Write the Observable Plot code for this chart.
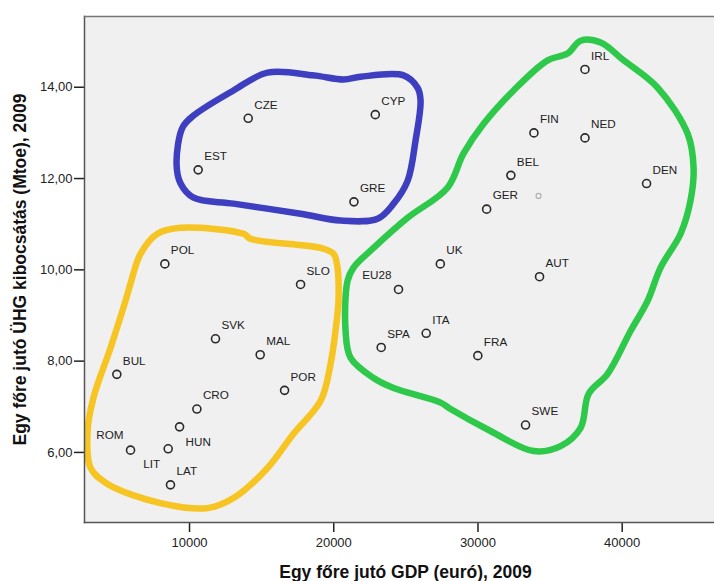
<!DOCTYPE html>
<html>
<head>
<meta charset="utf-8">
<script src="https://cdn.jsdelivr.net/npm/d3@7"></script>
<script src="https://cdn.jsdelivr.net/npm/@observablehq/plot@0.6"></script>
<style>
  body { margin: 0; background: #fff; }
  #chart svg { display: block; }
</style>
</head>
<body>
<div id="chart"></div>
<script>
// ---- Data ----
const countries = ["CZE","EST","GRE","CYP","IRL","FIN","NED","BEL","DEN","GER","UK","AUT","EU28","ITA","SPA","FRA","SWE","POL","SLO","SVK","MAL","BUL","POR","CRO","HUN","ROM","LIT","LAT"];
const gdp = [14070,10600,21400,22880,37420,33880,37420,32280,41690,30600,27390,34270,24490,26410,23290,29990,33300,8290,17700,11800,14900,4960,16590,10510,9310,5910,8520,8680];
const ghg = [13.32,12.19,11.49,13.40,14.39,13.00,12.89,12.07,11.89,11.33,10.13,9.85,9.57,8.61,8.30,8.12,6.60,10.13,9.68,8.49,8.14,7.71,7.36,6.95,6.56,6.05,6.08,5.29];

// faint extra point (grey)
const extraGdp = [34200];
const extraGhg = [11.62];

// label placement exceptions
const labelsLeftAbove = ["ROM","EU28"];
const labelsLeftBelow = ["LIT"];
const labelsRightBelow = ["HUN"];

// hand-drawn group outlines (in data units)
const blueGdp = [15410,18600,20680,21860,24840,25810,26020,25670,25120,24150,23040,20470,17700,13050,10280,9380,9100,9520,10280,13050];
const blueGhg = [14.32,14.26,14.17,14.23,14.26,13.99,13.71,12.83,11.95,11.45,11.12,11.08,11.23,11.45,11.58,11.89,12.33,13.12,13.38,13.93];

const yellowGdp = [7780,9380,13750,14230,19090,19990,20260,20330,20260,19780,19090,17210,15410,13050,11250,7990,4310,3140,2930,3340,4520,5560,5910,6600];
const yellowGhg = [10.79,10.92,10.79,10.68,10.48,10.35,10.05,9.32,9.04,7.94,7.13,6.41,5.66,5.00,4.78,4.89,5.31,5.66,6.47,7.20,8.29,9.32,9.70,10.35];

const greenGdp = [37120,38500,40100,42460,44540,44950,44740,44050,42660,41760,40580,38990,37670,37120,35730,33860,30870,28100,27410,24150,22760,21170,20820,20960,21370,22760,25120,27890,29000,30390,32470,34830,36210];
const greenGhg = [15.02,14.98,14.59,13.99,12.98,12.24,11.52,10.79,10.05,9.32,8.66,7.72,7.28,6.54,6.14,6.03,6.47,6.95,7.09,7.41,7.63,8.07,8.66,9.76,10.05,10.48,11.14,11.80,12.55,13.20,13.93,14.59,14.74];

const xTicks = [10000,20000,30000,40000];
const yTicks = [6,8,10,12,14];
const xTitle = "Egy főre jutó GDP (euró), 2009";
const yTitle = "Egy főre jutó ÜHG kibocsátás (Mtoe), 2009";

// ---- Build tables ----
const points = countries.map((c, i) => ({country: c, gdp: gdp[i], ghg: ghg[i]}));
const extra = extraGdp.map((g, i) => ({gdp: g, ghg: extraGhg[i]}));
const outline = (xs, ys) => xs.map((x, i) => ({gdp: x, ghg: ys[i]}));
const blue = outline(blueGdp, blueGhg);
const yellow = outline(yellowGdp, yellowGhg);
const green = outline(greenGdp, greenGhg);

const special = [...labelsLeftAbove, ...labelsLeftBelow, ...labelsRightBelow];
const normal = points.filter(d => !special.includes(d.country));
const leftAbove = points.filter(d => labelsLeftAbove.includes(d.country));
const leftBelow = points.filter(d => labelsLeftBelow.includes(d.country));
const rightBelow = points.filter(d => labelsRightBelow.includes(d.country));

const commaFmt = d3.formatLocale({decimal: ",", thousands: "", grouping: [3], currency: ["", ""]}).format(".2f");

const font = "'Liberation Sans', Arial, sans-serif";
const labelStyle = {fontSize: 11.7, fill: "#222"};

const chart = Plot.plot({
  width: 714,
  height: 581,
  marginLeft: 84,
  marginRight: 0,
  marginTop: 16,
  marginBottom: 59,
  style: {fontFamily: font, background: "#fff", overflow: "visible"},
  x: {domain: [2718, 46400]},
  y: {domain: [4.465, 15.55]},
  marks: [
    Plot.frame({fill: "#f0f0f0", stroke: null}),
    Plot.line(blue, {x: "gdp", y: "ghg", curve: "catmull-rom-closed", stroke: "#3d3fc0", strokeWidth: 6.5, strokeLinejoin: "round"}),
    Plot.line(yellow, {x: "gdp", y: "ghg", curve: "catmull-rom-closed", stroke: "#f6c423", strokeWidth: 6.5, strokeLinejoin: "round"}),
    Plot.line(green, {x: "gdp", y: "ghg", curve: "catmull-rom-closed", stroke: "#2ec84a", strokeWidth: 6.5, strokeLinejoin: "round"}),
    Plot.dot(extra, {x: "gdp", y: "ghg", r: 2.5, stroke: "#b0b0b0", strokeWidth: 1.2, fill: "none"}),
    Plot.dot(points, {x: "gdp", y: "ghg", r: 4, stroke: "#2a2a2a", strokeWidth: 1.6, fill: "none"}),
    Plot.text(normal, {x: "gdp", y: "ghg", text: "country", textAnchor: "start", dx: 6, dy: -13.5, ...labelStyle}),
    Plot.text(leftAbove, {x: "gdp", y: "ghg", text: "country", textAnchor: "end", dx: -7, dy: -14.5, ...labelStyle}),
    Plot.text(leftBelow, {x: "gdp", y: "ghg", text: "country", textAnchor: "end", dx: -8, dy: 15.5, ...labelStyle}),
    Plot.text(rightBelow, {x: "gdp", y: "ghg", text: "country", textAnchor: "start", dx: 6, dy: 15, ...labelStyle}),
    Plot.axisX({ticks: xTicks, tickFormat: d3.format("d"), tickSize: 10, tickPadding: 5, fontSize: 13, color: "#222", label: null, strokeWidth: 1.5}),
    Plot.axisY({ticks: yTicks, tickFormat: commaFmt, tickSize: 10, tickPadding: 2, fontSize: 13, color: "#222", label: null, strokeWidth: 1.5}),
    Plot.frame({anchor: "left", stroke: "#555", strokeWidth: 1.5}),
    Plot.frame({anchor: "top", stroke: "#777", strokeWidth: 1.5}),
    Plot.frame({anchor: "bottom", stroke: "#555", strokeWidth: 1.5}),
    Plot.text([xTitle], {frameAnchor: "bottom", text: d => d, textAnchor: "middle", lineAnchor: "middle", dy: 50, dx: 6, fontSize: 17.5, fontWeight: "bold", fill: "#111"}),
    Plot.text([yTitle], {frameAnchor: "left", text: d => d, textAnchor: "middle", lineAnchor: "middle", rotate: -90, dx: -64, fontSize: 17.5, fontWeight: "bold", fill: "#111"})
  ]
});
document.getElementById("chart").appendChild(chart);
</script>
</body>
</html>
